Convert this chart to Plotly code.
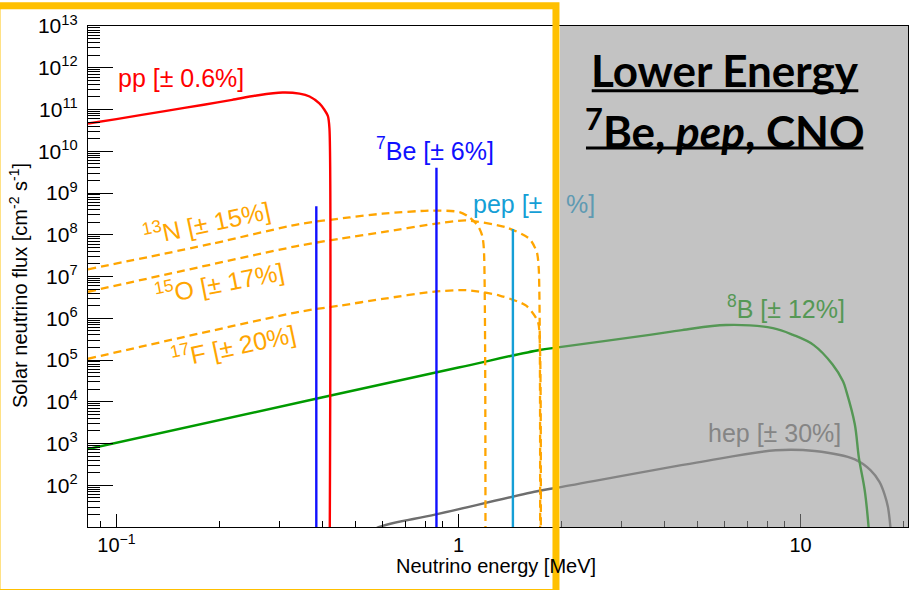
import math
import plotly.graph_objects as go

# ---------------- spectra (energy in MeV, flux in cm^-2 s^-1 [MeV^-1]) ----------------
pp_energy = [0.0826, 0.10, 0.14, 0.18, 0.218, 0.26, 0.306, 0.343, 0.367, 0.392, 0.405, 0.415, 0.4195, 0.4200]
pp_flux = [4.6e10, 5.9e10, 9.3e10, 1.3e11, 1.7e11, 2.2e11, 2.55e11, 2.4e11, 2.05e11, 1.4e11, 1.0e11, 7.0e10, 3.5e10, 1.0]

n13_energy = [0.0826, 0.192, 0.343, 0.48, 0.60, 0.84, 1.007, 1.077, 1.139, 1.173, 1.186, 1.199]
n13_flux = [1.48e7, 6.2e7, 1.8e8, 2.6e8, 3.2e8, 3.8e8, 3.5e8, 2.6e8, 1.66e8, 9.5e7, 4.6e7, 1.0]

o15_energy = [0.0826, 0.343, 0.449, 0.60, 0.84, 1.053, 1.379, 1.612, 1.694, 1.716, 1.732]
o15_flux = [4.3e6, 5.5e7, 8.0e7, 1.15e8, 1.8e8, 2.2e8, 1.5e8, 8.0e7, 3.8e7, 1.55e7, 1.0]

f17_energy = [0.0826, 0.343, 0.449, 0.60, 0.84, 1.053, 1.318, 1.577, 1.706, 1.73, 1.74]
f17_flux = [1.07e5, 1.43e6, 2.0e6, 2.9e6, 4.3e6, 4.7e6, 3.5e6, 2.0e6, 8.3e5, 2.0e5, 1.0]

b8_energy = [0.0826, 0.392, 1.0, 1.725, 1.95, 3.62, 4.5, 6.05, 8.3, 9.5, 10.9, 12.4, 13.3, 13.6,
             14.4, 14.8, 15.4, 15.8, 16.0]
b8_flux = [7.4e2, 1.23e4, 6.6e4, 1.74e5, 2.0e5, 4.0e5, 5.2e5, 6.9e5, 5.8e5, 4.0e5, 2.3e5, 7.8e4, 3.1e4, 1.8e4,
           2.9e3, 4.6e2, 74, 10, 2]

hep_energy = [0.50, 0.587, 0.86, 1.725, 1.97, 4.96, 8.45, 11.0, 14.4, 16.0, 17.0, 17.6, 18.0, 18.3, 18.5]
hep_flux = [5, 10, 20, 74, 89, 347, 690, 660, 417, 230, 120, 60, 30, 10, 3]

# mono-energetic lines
be7_energy = [0.384, 0.862]
be7_flux = [4.8e8, 4.05e9]
pep_energy = [1.442]
pep_flux = [1.37e8]
line_floor = 1.0

# axis ticks
x_tickvals = [0.1, 1, 10]
x_ticktext = ["10<sup>\u22121</sup>", "1", "10"]
y_exponents = list(range(2, 14))
y_tickvals = [10.0 ** p for p in y_exponents]
y_ticktext = ["10<sup>{}</sup>".format(p) for p in y_exponents]

# ---------------- styling ----------------
RED = "#ff0000"
BLUE = "#1010ff"
CYAN = "#159fd6"
ORANGE = "#ffa500"
GREEN = "#009a00"
GREY = "#6e6e6e"
YELLOW = "#ffc000"
FONT = "Liberation Sans"

# gray veil over the high-energy part
VEIL = (150, 150, 150, 0.57)


def veiled(hex_color):
    r, g, b = int(hex_color[1:3], 16), int(hex_color[3:5], 16), int(hex_color[5:7], 16)
    vr, vg, vb, a = VEIL
    mix = [round(a * v + (1 - a) * c) for v, c in ((vr, r), (vg, g), (vb, b))]
    return "rgb({},{},{})".format(*mix)


fig = go.Figure()


def curve(x, y, color, dash="solid", width=2.4, smoothing=1.0):
    fig.add_trace(go.Scatter(
        x=x, y=y, mode="lines",
        line=dict(color=color, width=width, dash=dash, shape="spline", smoothing=smoothing),
        hoverinfo="skip", showlegend=False))


curve(hep_energy, hep_flux, GREY)
curve(b8_energy, b8_flux, GREEN)
curve(n13_energy, n13_flux, ORANGE, dash="8px,5px", width=2.3, smoothing=0.7)
curve(o15_energy, o15_flux, ORANGE, dash="8px,5px", width=2.3, smoothing=0.7)
curve(f17_energy, f17_flux, ORANGE, dash="8px,5px", width=2.3, smoothing=0.7)
curve(pp_energy, pp_flux, RED, smoothing=0.7)

for e, f in zip(be7_energy, be7_flux):
    fig.add_trace(go.Scatter(x=[e, e], y=[line_floor, f], mode="lines",
                             line=dict(color=BLUE, width=2.4), hoverinfo="skip", showlegend=False))
for e, f in zip(pep_energy, pep_flux):
    fig.add_trace(go.Scatter(x=[e, e], y=[line_floor, f], mode="lines",
                             line=dict(color=CYAN, width=2.4), hoverinfo="skip", showlegend=False))

# ---------------- labels ----------------
LABEL_SIZE = 25


def label(text, e, f, color, angle=0, anchor="left", size=LABEL_SIZE):
    fig.add_annotation(x=math.log10(e), y=math.log10(f), xref="x", yref="y",
                       text=text, showarrow=False, textangle=angle,
                       xanchor=anchor, yanchor="middle",
                       font=dict(family=FONT, size=size, color=color))


label("pp [± 0.6%]", 0.1, 10 ** 11.75, RED)
label("<sup>7</sup>Be [± 6%]", 0.568, 10 ** 10.06, BLUE)
label("pep [±", 1.089, 10 ** 8.73, CYAN)
label("%]", 2.04, 10 ** 8.73, veiled(CYAN))
label("<sup>13</sup>N [± 15%]", 0.183, 10 ** 8.30, ORANGE, angle=-12, anchor="center")
label("<sup>15</sup>O [± 17%]", 0.200, 10 ** 6.87, ORANGE, angle=-11, anchor="center")
label("<sup>17</sup>F [± 20%]", 0.219, 10 ** 5.36, ORANGE, angle=-12, anchor="center")
label("<sup>8</sup>B [± 12%]", 6.0, 10 ** 6.27, veiled(GREEN))
label("hep [± 30%]", 5.3, 10 ** 3.25, veiled(GREY))

# axis titles
fig.add_annotation(x=0.498, y=-0.077, xref="paper", yref="paper", showarrow=False,
                   text="Neutrino energy [MeV]", xanchor="center", yanchor="middle",
                   font=dict(family=FONT, size=20, color="black"))
fig.add_annotation(x=-0.0854, y=0.483, xref="paper", yref="paper", showarrow=False,
                   text="Solar neutrino flux [cm<sup>-2</sup> s<sup>-1</sup>]", textangle=-90,
                   xanchor="center", yanchor="middle",
                   font=dict(family=FONT, size=20, color="black"))

# heading inside the veiled region
fig.add_annotation(x=0.7768, y=0.912, xref="paper", yref="paper", showarrow=False,
                   text="<b>Lower Energy</b>", xanchor="center", yanchor="middle",
                   font=dict(family="Lato", size=44, color="black"))
fig.add_annotation(x=0.7768, y=0.795, xref="paper", yref="paper", showarrow=False,
                   text="<b><sup>7</sup>Be, <i>pep</i>, CNO</b>", xanchor="center", yanchor="middle",
                   font=dict(family="Lato", size=44, color="black"))

# ---------------- shapes ----------------
shapes = [
    dict(type="rect", xref="paper", yref="paper", x0=0.5756, x1=1.0, y0=0.0, y1=1.0,
         fillcolor="rgba({},{},{},{})".format(*VEIL), line=dict(width=0), layer="above"),
    dict(type="line", xref="paper", yref="paper", x0=0.6143, x1=0.9394, y0=0.8707, y1=0.8707,
         line=dict(color="black", width=3), layer="above"),
    dict(type="line", xref="paper", yref="paper", x0=0.6073, x1=0.9455, y0=0.7564, y1=0.7564,
         line=dict(color="black", width=3), layer="above"),
    dict(type="rect", xref="paper", yref="paper", x0=-0.111, x1=0.5707, y0=-0.1307, y1=1.0406,
         line=dict(color=YELLOW, width=7), fillcolor="rgba(0,0,0,0)", layer="above"),
]

axis_common = dict(
    type="log", tickmode="array",
    ticks="inside", tickcolor="black", tickwidth=1.2,
    showline=True, linecolor="black", linewidth=1.3, mirror=True,
    showgrid=False, zeroline=False,
)

fig.update_layout(
    width=922, height=590,
    margin=dict(l=88, r=14, t=22, b=63, pad=0),
    paper_bgcolor="white", plot_bgcolor="white",
    showlegend=False,
    shapes=shapes,
    xaxis=dict(range=[math.log10(0.0826), math.log10(20.6)], ticklen=13,
               tickvals=x_tickvals, ticktext=x_ticktext, ticklabelstandoff=0,
               tickfont=dict(family=FONT, size=20, color="black"),
               minor=dict(ticks="inside", ticklen=6, dtick="D1", tickcolor="black", showgrid=False),
               **axis_common),
    yaxis=dict(range=[1.0, 13.0], ticklen=25,
               tickvals=y_tickvals, ticktext=y_ticktext, ticklabelstandoff=5,
               tickfont=dict(family=FONT, size=21, color="black"),
               minor=dict(ticks="inside", ticklen=12, dtick="D1", tickcolor="black", showgrid=False),
               **axis_common),
)

fig.write_html("out.html")
